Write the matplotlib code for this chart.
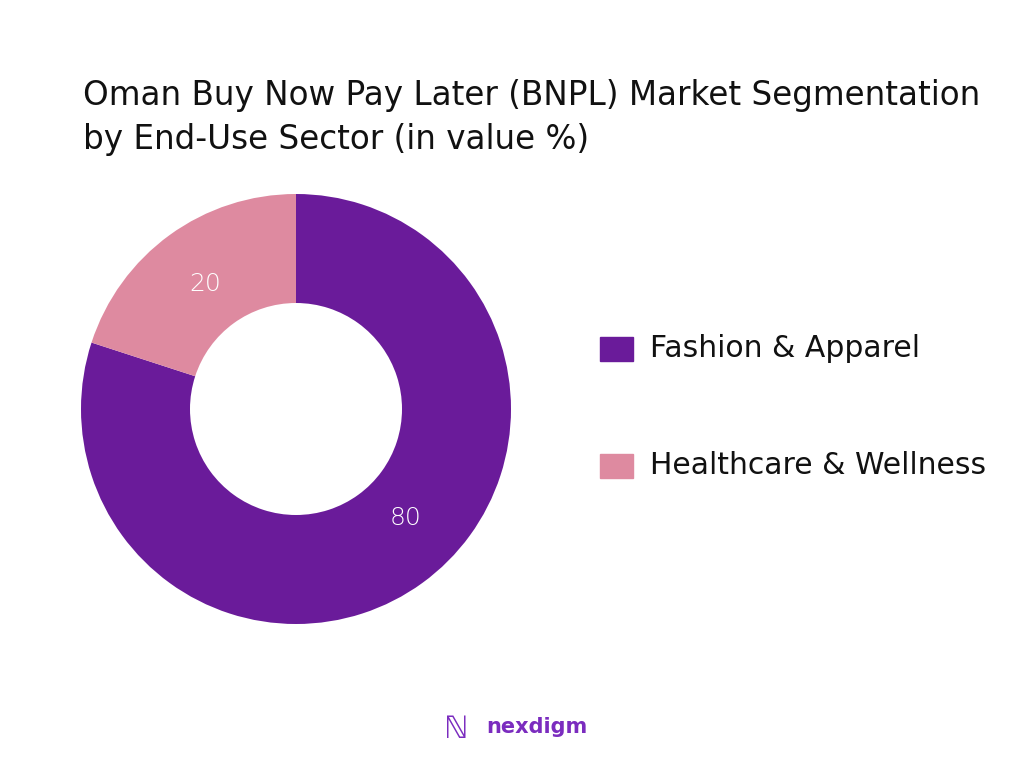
import matplotlib
matplotlib.use("Agg")
import matplotlib.pyplot as plt
from matplotlib.patches import Rectangle
import numpy as np

categories = ["Fashion & Apparel", "Healthcare & Wellness"]
values = [80, 20]
colors = ["#6A1B9A", "#DE8AA0"]

FONT = "DejaVu Sans"
fig = plt.figure(figsize=(10.24, 7.68), dpi=100)
ax = fig.add_axes([296/1024 - 215/1024, (768-409-215)/768, 430/1024, 430/768])
wedges, texts = ax.pie(values, colors=colors, startangle=90, counterclock=False,
                       wedgeprops=dict(width=109/215, edgecolor="none"))
ang = 90
for w, v in zip(wedges, values):
    mid = ang - v*3.6/2
    ang -= v*3.6
    if v * 3.6 > 180:  # large slice label sits nearer its lower-right side
        mid = (mid + (-36)) / 2
    m = np.deg2rad(mid)
    ax.text(0.72*np.cos(m), 0.72*np.sin(m), str(v), color="white",
            ha="center", va="center", fontsize=18, fontfamily=FONT, fontweight="light")
ax.set_aspect("equal")
ax.set_xlim(-1, 1); ax.set_ylim(-1, 1)
ax.axis("off")

fig.text(83/1024, 1-95/768, "Oman Buy Now Pay Later (BNPL) Market Segmentation",
         fontsize=23.5, fontfamily=FONT, va="center", ha="left", color="#111111")
fig.text(83/1024, 1-140/768, "by End-Use Sector (in value %)",
         fontsize=23.5, fontfamily=FONT, va="center", ha="left", color="#111111")

for i, (c, col) in enumerate(zip(categories, colors)):
    y = 349 + i*117
    fig.patches.append(Rectangle((600/1024, 1-(y+12)/768), 33/1024, 24/768,
                                 transform=fig.transFigure, color=col))
    fig.text(650/1024, 1-y/768, c, fontsize=21.5, fontfamily=FONT,
             va="center", ha="left", color="#111111")

fig.text(486/1024, 1-727/768, "nexdigm", fontsize=15, fontweight="bold",
         fontfamily=FONT, color="#7B2CBF", va="center", ha="left")
fig.text(456/1024, 1-729/768, "ℕ", fontsize=22, color="#7B2CBF", va="center", ha="center")
fig.savefig("out.png", dpi=100)
